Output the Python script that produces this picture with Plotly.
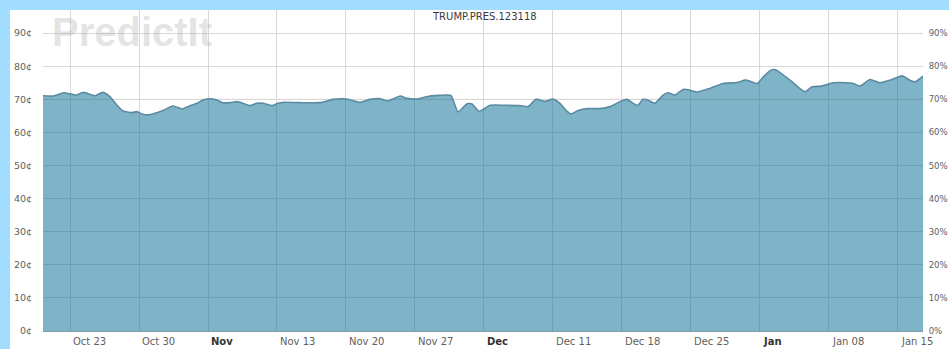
import plotly.graph_objects as go

# Share price history for the TRUMP.PRES.123118 contract (cents)
dates = [
    "2017-10-20 06:00", "2017-10-21 07:00", "2017-10-22 09:00", "2017-10-23 05:00",
    "2017-10-23 17:00", "2017-10-24 08:00", "2017-10-25 01:00", "2017-10-25 13:00",
    "2017-10-26 08:00", "2017-10-27 01:00", "2017-10-27 18:00", "2017-10-28 09:00",
    "2017-10-29 07:00", "2017-10-29 19:00", "2017-10-30 07:00", "2017-10-30 22:00",
    "2017-10-31 15:00", "2017-11-01 10:00", "2017-11-02 11:00", "2017-11-03 09:00",
    "2017-11-03 23:00", "2017-11-04 21:00", "2017-11-05 12:00", "2017-11-06 05:00",
    "2017-11-06 22:00", "2017-11-07 12:00", "2017-11-08 06:00", "2017-11-08 23:00",
    "2017-11-09 13:00", "2017-11-10 06:00", "2017-11-10 23:00", "2017-11-11 14:00",
    "2017-11-12 12:00", "2017-11-13 02:00", "2017-11-13 17:00", "2017-11-15 08:00",
    "2017-11-17 09:00", "2017-11-18 16:00", "2017-11-20 02:00", "2017-11-21 10:00",
    "2017-11-22 11:00", "2017-11-23 11:00", "2017-11-24 06:00", "2017-11-25 12:00",
    "2017-11-26 05:00", "2017-11-27 05:00", "2017-11-27 19:00", "2017-11-28 12:00",
    "2017-11-30 06:00", "2017-11-30 16:00", "2017-12-01 09:00", "2017-12-02 07:00",
    "2017-12-02 19:00", "2017-12-03 12:00", "2017-12-04 15:00", "2017-12-06 03:00",
    "2017-12-07 16:00", "2017-12-08 11:00", "2017-12-09 07:00", "2017-12-10 05:00",
    "2017-12-11 00:00", "2017-12-11 17:00", "2017-12-12 08:00", "2017-12-12 20:00",
    "2017-12-13 13:00", "2017-12-14 11:00", "2017-12-15 18:00", "2017-12-16 19:00",
    "2017-12-17 19:00", "2017-12-18 12:00", "2017-12-19 03:00", "2017-12-19 15:00",
    "2017-12-20 03:00", "2017-12-20 15:00", "2017-12-21 08:00", "2017-12-22 04:00",
    "2017-12-22 16:00", "2017-12-23 09:00", "2017-12-24 05:00", "2017-12-24 17:00",
    "2017-12-25 15:00", "2017-12-26 22:00", "2017-12-28 06:00", "2017-12-29 16:00",
    "2017-12-30 12:00", "2017-12-31 00:00", "2017-12-31 17:00", "2018-01-01 07:00",
    "2018-01-02 00:00", "2018-01-02 12:00", "2018-01-03 01:00", "2018-01-04 01:00",
    "2018-01-05 01:00", "2018-01-05 14:00", "2018-01-06 07:00", "2018-01-07 07:00",
    "2018-01-08 10:00", "2018-01-09 20:00", "2018-01-10 11:00", "2018-01-11 04:00",
    "2018-01-12 04:00", "2018-01-13 04:00", "2018-01-14 05:00", "2018-01-15 10:00",
    "2018-01-16 05:00", "2018-01-16 18:00", "2018-01-17 13:00",
]
prices = [
    71.1, 71.0, 72.0, 71.5,
    71.3, 72.1, 71.5, 71.1,
    72.1, 70.8, 68.3, 66.5,
    66.0, 66.3, 65.6, 65.3,
    65.8, 66.6, 68.0, 67.1,
    67.8, 68.8, 69.8, 70.2,
    69.8, 69.0, 69.0, 69.3,
    68.8, 68.1, 68.8, 68.8,
    68.1, 68.8, 69.1, 69.0,
    69.0, 70.0, 70.1, 69.1,
    70.0, 70.2, 69.5, 71.0,
    70.3, 70.1, 70.5, 71.0,
    71.3, 71.1, 66.2, 68.7,
    68.6, 66.4, 68.2, 68.2,
    68.1, 67.8, 70.0, 69.4,
    70.1, 68.8, 66.6, 65.6,
    66.6, 67.2, 67.2, 67.8,
    69.3, 70.0, 68.8, 68.2,
    70.0, 69.8, 68.8, 71.3,
    72.0, 71.3, 73.0, 72.9,
    72.2, 73.3, 74.8, 75.1,
    75.8, 75.5, 74.8, 76.6,
    78.6, 79.0, 78.1, 75.8,
    73.3, 72.3, 73.8, 74.0,
    75.0, 75.0, 74.8, 74.0,
    76.0, 75.0, 75.8, 77.1,
    75.8, 75.3, 77.0,
]

# Weekly ticks (Mondays) and their labels; month starts are shown in bold
week_ticks = [
    "2017-10-23", "2017-10-30", "2017-11-06", "2017-11-13", "2017-11-20",
    "2017-11-27", "2017-12-04", "2017-12-11", "2017-12-18", "2017-12-25",
    "2018-01-01", "2018-01-08", "2018-01-15",
]
week_labels = [
    "Oct 23", "Oct 30", "Nov", "Nov 13", "Nov 20", "Nov 27", "Dec",
    "Dec 11", "Dec 18", "Dec 25", "Jan", "Jan 08", "Jan 15",
]
month_labels = {"Nov", "Dec", "Jan"}

y_ticks = [0, 10, 20, 30, 40, 50, 60, 70, 80, 90]
cent_labels = [f"{v}¢" for v in y_ticks]
pct_labels = [f"{v}%" for v in y_ticks]

contract = "TRUMP.PRES.123118"

FILL = "rgba(0,103,143,0.5)"
LINE = "#5b8ba2"
GRID = "#d8d8d8"
FRAME = "#a2dcfe"
TXT = "#606060"
FONT = "DejaVu Sans"

fig = go.Figure()

fig.add_trace(go.Scatter(
    x=dates, y=prices, mode="lines",
    line=dict(color=LINE, width=1.6, shape="spline", smoothing=0.5),
    fill="tozeroy", fillcolor=FILL,
    hoverinfo="x+y", showlegend=False,
))
# mirror on the right-hand percentage axis
fig.add_trace(go.Scatter(
    x=dates, y=prices, yaxis="y2", mode="lines",
    line=dict(width=0), opacity=0, hoverinfo="skip", showlegend=False,
))

x_range = ["2017-10-20 06:14", "2018-01-17 13:00"]
y_range = [0, 97]

fig.update_layout(
    width=949, height=349,
    margin=dict(l=43, r=26, t=10, b=18, pad=0, autoexpand=False),
    paper_bgcolor="white", plot_bgcolor="white",
    font=dict(family=FONT, size=10, color=TXT),
    xaxis=dict(
        range=x_range, type="date",
        tickvals=week_ticks, showticklabels=False,
        showgrid=True, gridcolor=GRID, gridwidth=1,
        showline=True, linecolor="#7f9cab", linewidth=1,
        zeroline=False, ticks="", automargin=False,
    ),
    yaxis=dict(
        range=y_range, tickmode="array", tickvals=y_ticks, ticktext=cent_labels,
        showgrid=True, gridcolor=GRID, gridwidth=1,
        zeroline=False, ticks="outside", ticklen=8,
        tickcolor="rgba(0,0,0,0)", automargin=False,
        tickfont=dict(family=FONT, size=9.5, color=TXT),
    ),
    yaxis2=dict(
        range=y_range, tickmode="array", tickvals=y_ticks, ticktext=pct_labels,
        overlaying="y", side="right", showgrid=False, zeroline=False,
        ticks="outside", ticklen=3, tickcolor="rgba(0,0,0,0)", automargin=False,
        tickfont=dict(family=FONT, size=8.5, color=TXT),
    ),
)

# faint reference line at the 70 level
fig.add_shape(type="line", xref="paper", yref="y", x0=0, x1=1, y0=70, y1=70,
              line=dict(color="#ead2b6", width=1), layer="below")

# light-blue frame along the top and left edges of the page
fig.add_shape(type="rect", xref="paper", yref="paper",
              x0=-0.06, x1=1.04, y0=1.0, y1=1.04,
              line=dict(width=0), fillcolor=FRAME, layer="above")
fig.add_shape(type="rect", xref="paper", yref="paper",
              x0=-0.06, x1=-0.0375, y0=-0.07, y1=1.04,
              line=dict(width=0), fillcolor=FRAME, layer="above")

# week labels, left-aligned at each gridline
for d, lab in zip(week_ticks, week_labels):
    bold = lab in month_labels
    fig.add_annotation(
        x=d, xref="x", y=0, yref="paper", yanchor="top", xanchor="left",
        xshift=1, yshift=-3, showarrow=False,
        text=f"<b>{lab}</b>" if bold else lab,
        font=dict(family=FONT, size=10, color="#333333" if bold else TXT),
    )

# contract name
fig.add_annotation(
    x=0.5017, xref="paper", y=0.981, yref="paper", yanchor="middle",
    showarrow=False, text=contract,
    font=dict(family=FONT, size=10, color="#3a3a3a"),
)

# watermark
fig.add_annotation(
    x=0.008, xref="paper", y=0.933, yref="paper",
    xanchor="left", yanchor="middle", showarrow=False,
    text="<b>PredictIt</b>",
    font=dict(family="Liberation Sans", size=40, color="rgba(160,160,160,0.3)"),
)

fig.write_html("out.html")
